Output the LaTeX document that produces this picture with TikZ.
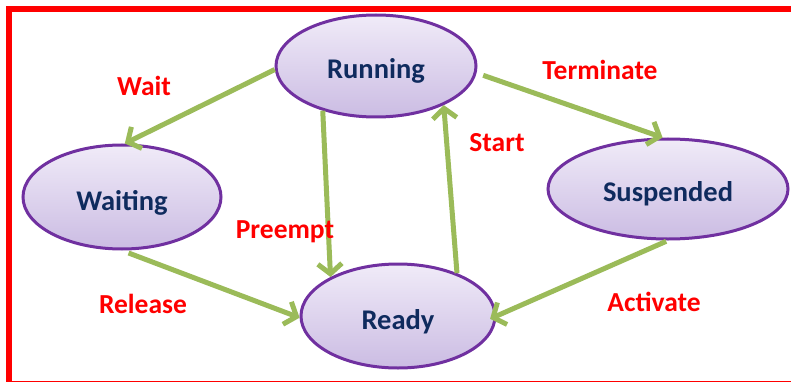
\documentclass[tikz,border=0pt]{standalone}
\usepackage{fontspec}
\setmainfont{Carlito}
\usetikzlibrary{shapes.geometric,arrows.meta}
\definecolor{stateborder}{HTML}{7030A0}
\definecolor{statetop}{HTML}{F0EBF8}
\definecolor{statebottom}{HTML}{CBBCE3}
\definecolor{statetext}{HTML}{0F2B5E}
\definecolor{arrowgreen}{HTML}{9BBB59}
\definecolor{framered}{HTML}{FF0000}
\tikzset{
  statebox/.style={ellipse, draw=stateborder, line width=3pt, top color=statetop, bottom color=statebottom,
    inner sep=0pt, font=\fontsize{28.5}{30}\selectfont\bfseries, text=statetext},
  transition/.style={draw=arrowgreen, line width=5pt, -{Straight Barb[length=10pt,width=24pt]}},
  translabel/.style={font=\fontsize{27.5}{29}\selectfont\bfseries, text=framered, inner sep=0pt}
}
\newcommand\lowered[1]{\raisebox{-13pt}[0pt][0pt]{#1}}
\begin{document}
\begin{tikzpicture}[x=1pt,y=-1pt]
\useasboundingbox (0,0) rectangle (791,382);
\begin{scope}
\clip (0,0) rectangle (791,382);
\draw[framered, line width=6pt] (9,9) rectangle (800,384);
\end{scope}
\node[statebox, minimum width=200pt, minimum height=102pt] (running) at (376,66) {\lowered{Running}};
\node[statebox, minimum width=198pt, minimum height=104pt] (waiting) at (122,197) {\lowered{Waiting}};
\node[statebox, minimum width=194pt, minimum height=104pt] (ready) at (398,316) {\lowered{Ready}};
\node[statebox, minimum width=240pt, minimum height=100pt] (suspended) at (668,189) {\lowered{Suspended}};

\draw[transition] (running.182) -- (waiting.87);
\draw[transition, shorten <=7pt] (running.-4) -- (suspended.96);
\draw[transition] (running.220) -- (ready.150);
\draw[transition] (ready.36) -- (running.-30);
\draw[transition, shorten <=7pt] (waiting.270) -- (ready.181);
\draw[transition, shorten <=2pt, shorten >=-7pt] (suspended.270) -- (ready.0);

\node[translabel] (lwait) at (144,86) {Wait};
\node[translabel] (lterm) at (600,70) {Terminate};
\node[translabel] (lstart) at (497,143) {Start};
\node[translabel] (lpre) at (285,232) {Preempt};
\node[translabel] (lrel) at (143,304) {Release};
\node[translabel] (lact) at (654,302) {Activate};
\end{tikzpicture}
\end{document}
